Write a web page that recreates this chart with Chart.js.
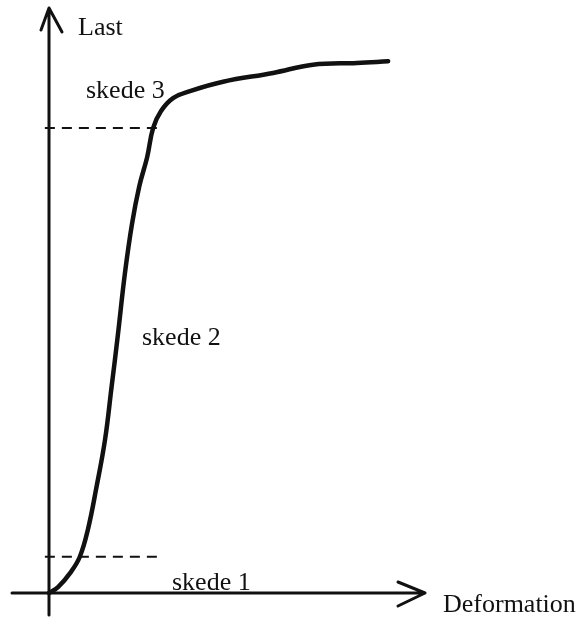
<!DOCTYPE html>
<html lang="da">
  <head>
    <meta charset="UTF-8" />
    <title>Last / Deformation</title>
    <script src="https://cdn.jsdelivr.net/npm/chart.js"></script>
    <style>
      html,
      body {
        margin: 0;
        padding: 0;
        background: #fff;
      }
      .wrap {
        width: 586px;
        height: 617px;
      }
    </style>
  </head>
  <body>
    <div class="wrap">
      <canvas id="lastChart"></canvas>
    </div>

    <script>
      // Arbejdskurve: deformation (x) mod last (y), 0-100 på begge akser
      const deformation = [
        0, 2.4, 5.6, 8.2, 10.4, 12.6, 14.9, 16.6, 18.3, 20.2, 22.1, 24.0,
        26.1, 27.7, 29.8, 33.0, 37.5, 46.3, 59.6, 70.2, 81.9, 90.2,
      ];
      const last = [
        0, 1.0, 3.4, 6.2, 11.0, 18.0, 26.2, 35.0, 44.0, 54.7, 63.2, 69.5,
        74.5, 79.5, 82.4, 84.6, 85.8, 87.4, 88.9, 90.3, 90.6, 90.9,
      ];

      // Grænser mellem skederne (stiplede linjer)
      const grænseLast = [6.2, 79.5];
      const grænseX = [-1.1, 30.1];

      const aksetitler = ["Last", "Deformation"];
      const skeder = ["skede 1", "skede 2", "skede 3"];

      const kurve = deformation.map((x, i) => ({ x: x, y: last[i] }));

      const stiplet = grænseLast.map((y) => ({
        data: [
          { x: grænseX[0], y: y },
          { x: grænseX[1], y: y },
        ],
        showLine: true,
        borderColor: "#111",
        borderWidth: 2,
        borderDash: [10, 7],
        pointRadius: 0,
        clip: false,
      }));

      // Akser med pilespidser og tekster tegnes direkte på canvas
      const akser = {
        id: "akser",
        beforeDatasetsDraw(chart) {
          const { ctx, chartArea } = chart;
          const x0 = chart.scales.x.getPixelForValue(0);
          const y0 = chart.scales.y.getPixelForValue(0);
          ctx.save();
          ctx.strokeStyle = "#111";
          ctx.lineWidth = 3;
          ctx.lineCap = "round";
          ctx.lineJoin = "round";

          // lodret akse
          ctx.beginPath();
          ctx.moveTo(x0, 615);
          ctx.lineTo(x0, chartArea.top);
          ctx.moveTo(x0 - 8, chartArea.top + 22);
          ctx.lineTo(x0, chartArea.top);
          ctx.lineTo(x0 + 13, chartArea.top + 24);
          ctx.stroke();

          // vandret akse
          ctx.beginPath();
          ctx.moveTo(12, y0);
          ctx.lineTo(chartArea.right, y0);
          ctx.moveTo(chartArea.right - 27, y0 - 11);
          ctx.lineTo(chartArea.right, y0);
          ctx.lineTo(chartArea.right - 27, y0 + 13);
          ctx.stroke();

          ctx.fillStyle = "#111";
          ctx.font = "26px 'Liberation Serif', 'DejaVu Serif', serif";
          ctx.textBaseline = "alphabetic";
          ctx.fillText(aksetitler[0], 78, 35);
          ctx.fillText(aksetitler[1], 443, 612);
          ctx.fillText(skeder[0], 172, 590);
          ctx.fillText(skeder[1], 142, 345);
          ctx.fillText(skeder[2], 86, 98);
          ctx.restore();
        },
      };

      new Chart(document.getElementById("lastChart"), {
        type: "scatter",
        data: {
          datasets: [
            {
              data: kurve,
              showLine: true,
              borderColor: "#111",
              borderWidth: 4.5,
              borderCapStyle: "round",
              tension: 0.4,
              pointRadius: 0,
              clip: false,
            },
            ...stiplet,
          ],
        },
        options: {
          responsive: true,
          maintainAspectRatio: false,
          animation: false,
          layout: {
            padding: { left: 49, right: 161, top: 8, bottom: 24 },
          },
          plugins: {
            legend: { display: false },
            tooltip: { enabled: false },
          },
          scales: {
            x: { type: "linear", min: 0, max: 100, display: false },
            y: { type: "linear", min: 0, max: 100, display: false },
          },
        },
        plugins: [akser],
      });
    </script>
  </body>
</html>
